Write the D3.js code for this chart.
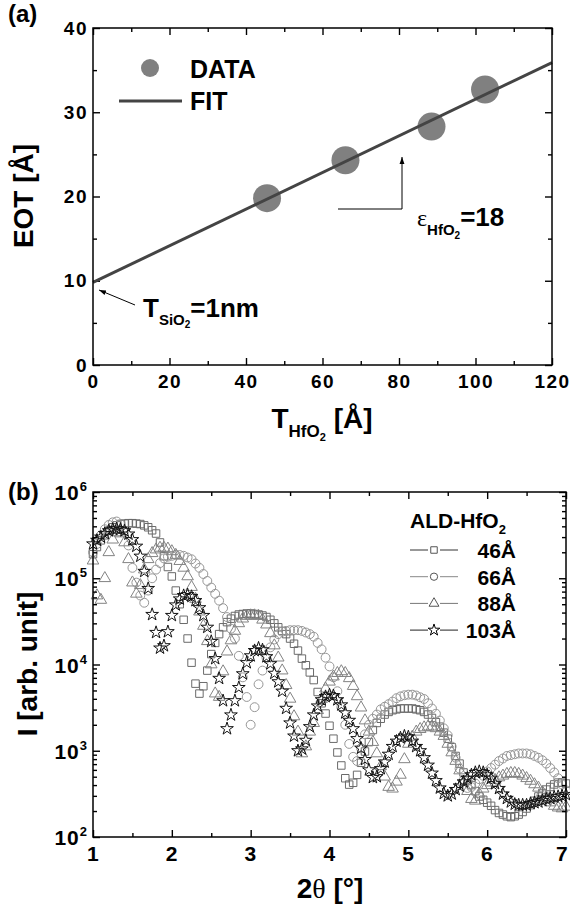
<!DOCTYPE html>
<html lang="en">

<head>
    <meta charset="UTF-8">
    <title>EOT vs HfO2 thickness / XRR</title>
    <script src="https://cdn.jsdelivr.net/npm/d3@7"></script>
    <style>
        body {
            margin: 0;
            background: #fff;
        }

        svg {
            display: block;
            font-family: "Liberation Sans", Arial, Helvetica, sans-serif;
            font-weight: bold;
        }
    </style>
</head>

<body>
    <script>
        // ---- panel (a) data ----
        const thickness = [45.5, 66, 88.5, 102.5];
        const eot = [19.8, 24.3, 28.3, 32.7];
        const fitX = [0, 120];
        const fitY = [9.8, 35.9];
        const thkTicks = [0, 20, 40, 60, 80, 100, 120];
        const thkMinor = [10, 30, 50, 70, 90, 110];
        const eotTicks = [0, 10, 20, 30, 40];
        const eotMinor = [5, 15, 25, 35];

        // ---- panel (b) data ----
        const twoTheta = [
            1.00, 1.05, 1.10, 1.15, 1.20, 1.25, 1.30, 1.35, 1.40, 1.45,
            1.50, 1.55, 1.60, 1.65, 1.70, 1.75, 1.80, 1.85, 1.90, 1.95,
            2.00, 2.05, 2.10, 2.15, 2.20, 2.25, 2.30, 2.35, 2.40, 2.45,
            2.50, 2.55, 2.60, 2.65, 2.70, 2.75, 2.80, 2.85, 2.90, 2.95,
            3.00, 3.05, 3.10, 3.15, 3.20, 3.25, 3.30, 3.35, 3.40, 3.45,
            3.50, 3.55, 3.60, 3.65, 3.70, 3.75, 3.80, 3.85, 3.90, 3.95,
            4.00, 4.05, 4.10, 4.15, 4.20, 4.25, 4.30, 4.35, 4.40, 4.45,
            4.50, 4.55, 4.60, 4.65, 4.70, 4.75, 4.80, 4.85, 4.90, 4.95,
            5.00, 5.05, 5.10, 5.15, 5.20, 5.25, 5.30, 5.35, 5.40, 5.45,
            5.50, 5.55, 5.60, 5.65, 5.70, 5.75, 5.80, 5.85, 5.90, 5.95,
            6.00, 6.05, 6.10, 6.15, 6.20, 6.25, 6.30, 6.35, 6.40, 6.45,
            6.50, 6.55, 6.60, 6.65, 6.70, 6.75, 6.80, 6.85, 6.90, 6.95,
            7.00
        ];
        const I46 = [
            1.9e5, 2.3e5, 2.75e5, 3.15e5, 3.55e5, 3.9e5, 4.1e5, 4.25e5, 4.3e5, 4.35e5,
            4.35e5, 4.3e5, 4.25e5, 4.1e5, 3.9e5, 3.6e5, 3.3e5, 2.6e5, 1.8e5, 1.35e5,
            1.05e5, 7.2e4, 5.0e4, 3.3e4, 2.0e4, 1.05e4, 6.0e3, 4.6e3, 5.6e3, 8.5e3,
            1.32e4, 1.78e4, 2.25e4, 2.7e4, 3.1e4, 3.4e4, 3.65e4, 3.8e4, 3.85e4, 3.9e4,
            3.9e4, 3.85e4, 3.8e4, 3.7e4, 3.55e4, 3.3e4, 3.0e4, 2.7e4, 2.45e4, 2.25e4,
            2.0e4, 1.74e4, 1.45e4, 1.17e4, 9.8e3, 8.1e3, 6.6e3, 4.8e3, 3.55e3, 2.7e3,
            1950, 1380, 955, 675, 480, 405, 425, 525, 725, 980,
            1260, 1740, 2100, 2350, 2630, 2820, 2950, 3020, 3090, 3090,
            3090, 3090, 3020, 2950, 2820, 2630, 2400, 2140, 1900, 1620,
            1380, 1100, 870, 710, 560, 455, 400, 340, 295, 270,
            250, 230, 205, 190, 182, 174, 170, 174, 182, 195,
            214, 234, 263, 295, 324, 355, 380, 407, 427, 427,
            417
        ];
        const I66 = [
            2.0e5, 2.5e5, 3.15e5, 3.7e5, 4.15e5, 4.45e5, 4.55e5, 4.25e5, 3.55e5, 2.4e5,
            1.32e5, 8.9e4, 6.3e4, 5.2e4, 7.2e4, 1.0e5, 1.26e5, 1.5e5, 1.7e5, 1.78e5,
            1.82e5, 1.86e5, 1.86e5, 1.82e5, 1.74e5, 1.66e5, 1.48e5, 1.32e5, 1.12e5, 9.3e4,
            7.8e4, 6.6e4, 5.5e4, 4.5e4, 3.55e4, 2.6e4, 2.0e4, 1.26e4, 7.1e3, 4.2e3,
            2.0e3, 3.2e3, 5.9e3, 8.5e3, 1.2e4, 1.58e4, 1.95e4, 2.25e4, 2.4e4, 2.45e4,
            2.5e4, 2.5e4, 2.5e4, 2.45e4, 2.35e4, 2.25e4, 2.1e4, 1.78e4, 1.5e4, 1.2e4,
            9.5e3, 7.1e3, 4.9e3, 3.2e3, 2.0e3, 1.2e3, 850, 760, 1070, 1550,
            2000, 2350, 2630, 3020, 3240, 3470, 3720, 4070, 4270, 4400,
            4470, 4470, 4370, 4170, 3980, 3550, 3090, 2690, 2240, 1820,
            1510, 1120, 830, 620, 455, 370, 380, 417, 468, 513,
            575, 630, 690, 760, 813, 870, 890, 910, 930, 930,
            930, 910, 870, 830, 776, 710, 630, 560, 480, 407,
            347
        ];
        const I88 = [
            1.6e5, 6.3e4, 5.6e4, 1.0e5, 2.0e5, 2.8e5, 3.4e5, 3.3e5, 2.6e5, 1.66e5,
            8.9e4, 6.6e4, 8.3e4, 1.26e5, 1.66e5, 1.95e5, 2.15e5, 2.25e5, 2.25e5, 2.2e5,
            2.05e5, 1.86e5, 1.58e5, 1.32e5, 1.05e5, 7.9e4, 5.75e4, 4.1e4, 2.8e4, 1.86e4,
            1.0e4, 4.6e3, 4.2e3, 8.3e3, 1.41e4, 1.9e4, 2.45e4, 3.0e4, 3.4e4, 3.65e4,
            3.7e4, 3.7e4, 3.65e4, 3.3e4, 2.9e4, 2.3e4, 1.66e4, 1.2e4, 8.5e3, 5.75e3,
            4.0e3, 2.5e3, 1.66e3, 930, 1120, 1660, 2090, 2950, 3980, 5250,
            6310, 7240, 7940, 8320, 7940, 6920, 5620, 4270, 3160, 2240,
            1660, 1260, 930, 660, 500, 380, 363, 437, 525, 795,
            1200, 1450, 1660, 1780, 1860, 1900, 1900, 1820, 1660, 1480,
            1200, 955, 760, 590, 437, 340, 275, 263, 316, 363,
            398, 427, 457, 490, 513, 537, 550, 550, 537, 513,
            480, 447, 407, 372, 331, 288, 251, 229, 219, 214,
            224
        ];
        const I103 = [
            2.5e5, 2.75e5, 3.0e5, 3.3e5, 3.55e5, 3.7e5, 3.75e5, 3.7e5, 3.55e5, 3.25e5,
            2.8e5, 2.35e5, 1.8e5, 1.2e5, 7.6e4, 3.8e4, 2.35e4, 1.55e4, 1.65e4, 2.4e4,
            3.7e4, 4.9e4, 5.75e4, 6.3e4, 6.45e4, 6.15e4, 5.5e4, 4.55e4, 3.7e4, 2.7e4,
            1.85e4, 1.17e4, 6.9e3, 3.8e3, 1.8e3, 2.6e3, 3.8e3, 5.4e3, 7.8e3, 1.05e4,
            1.26e4, 1.45e4, 1.55e4, 1.48e4, 1.23e4, 1.02e4, 7.9e3, 6.3e3, 4.9e3, 3.1e3,
            2.1e3, 1.48e3, 1.0e3, 1.05e3, 1.32e3, 1.9e3, 2.6e3, 3.3e3, 3.9e3, 4.25e3,
            4450, 4350, 3900, 3400, 2750, 2250, 1800, 1380, 1070, 790,
            600, 490, 500, 620, 740, 910, 1120, 1290, 1410, 1480,
            1450, 1290, 1120, 1000, 830, 680, 550, 450, 370, 320,
            300, 315, 355, 390, 435, 480, 525, 560, 575, 560,
            525, 480, 415, 365, 315, 280, 255, 240, 235, 235,
            235, 245, 250, 255, 265, 275, 280, 290, 295, 300,
            310
        ];
        const angleTicks = [1, 2, 3, 4, 5, 6, 7];
        const angleMinor = [1.5, 2.5, 3.5, 4.5, 5.5, 6.5];
        const decades = [1e2, 1e3, 1e4, 1e5, 1e6];
        const seriesNames = ["46Å", "66Å", "88Å", "103Å"];

        const FONT = '"Liberation Sans", Arial, Helvetica, sans-serif';

        let svg = d3.select("body")
            .append("svg")
            .attr("width", 570)
            .attr("height", 911);

        svg.append("defs").append("marker")
            .attr("id", "arrow")
            .attr("viewBox", "0 0 10 10")
            .attr("refX", 10).attr("refY", 5)
            .attr("markerWidth", 7).attr("markerHeight", 7)
            .attr("orient", "auto")
            .append("path").attr("d", "M0,1.5 L10,5 L0,8.5 Z").attr("fill", "#000");

        // inward ticks, with or without labels
        function drawAxis(axis, scale, values, size, tr, fmt, pad, fs) {
            const g = svg.append("g")
                .attr("transform", tr)
                .call(axis(scale).tickValues(values).tickSizeInner(-size).tickSizeOuter(0)
                    .tickPadding(pad || 0).tickFormat(fmt || ""));
            g.select(".domain").remove();
            g.selectAll("line").attr("stroke", "#000").attr("stroke-width", 1.4);
            g.selectAll("text")
                .attr("font-family", FONT)
                .attr("font-weight", "bold")
                .attr("font-size", fs || 18)
                .attr("letter-spacing", 1.5)
                .attr("fill", "#000");
            return g;
        }

        function frame(x, y) {
            svg.append("rect")
                .attr("x", x.range()[0]).attr("y", y.range()[1])
                .attr("width", x.range()[1] - x.range()[0])
                .attr("height", y.range()[0] - y.range()[1])
                .attr("fill", "none").attr("stroke", "#000").attr("stroke-width", 1.5);
        }

        // =================== (a) ===================
        const xa = d3.scaleLinear().domain([0, 120]).range([93, 552]);
        const ya = d3.scaleLinear().domain([0, 40]).range([365, 28]);

        drawAxis(d3.axisBottom, xa, thkTicks, 7, "translate(0,365)", d3.format("d"), 10, 19);
        drawAxis(d3.axisBottom, xa, thkMinor, 4, "translate(0,365)");
        drawAxis(d3.axisTop, xa, thkTicks, 7, "translate(0,28)");
        drawAxis(d3.axisTop, xa, thkMinor, 4, "translate(0,28)");
        drawAxis(d3.axisLeft, ya, eotTicks, 7, "translate(93,0)", d3.format("d"), 5, 19);
        drawAxis(d3.axisLeft, ya, eotMinor, 4, "translate(93,0)");
        drawAxis(d3.axisRight, ya, eotTicks, 7, "translate(552,0)");
        drawAxis(d3.axisRight, ya, eotMinor, 4, "translate(552,0)");

        // data circles
        svg.append("g").selectAll("circle")
            .data(thickness)
            .join("circle")
            .attr("cx", d => xa(d))
            .attr("cy", (d, i) => ya(eot[i]))
            .attr("r", 14)
            .attr("fill", "#808080");

        // fit line
        const fitLine = d3.line().x(d => xa(d[0])).y(d => ya(d[1]));
        svg.append("path")
            .datum(fitX.map((d, i) => [d, fitY[i]]))
            .attr("d", fitLine)
            .attr("fill", "none")
            .attr("stroke", "#444")
            .attr("stroke-width", 3);

        frame(xa, ya);

        // legend (a)
        svg.append("circle").attr("cx", 150).attr("cy", 68).attr("r", 9).attr("fill", "#808080");
        svg.append("text").attr("x", 190).attr("y", 78).attr("font-size", 25).text("DATA");
        svg.append("line").attr("x1", 119).attr("x2", 182).attr("y1", 101).attr("y2", 101)
            .attr("stroke", "#444").attr("stroke-width", 3);
        svg.append("text").attr("x", 190).attr("y", 110).attr("font-size", 25).text("FIT");

        // annotations
        svg.append("line").attr("x1", 135).attr("y1", 305).attr("x2", 99).attr("y2", 290)
            .attr("stroke", "#000").attr("stroke-width", 1).attr("marker-end", "url(#arrow)");
        let tsio = svg.append("text").attr("x", 143).attr("y", 317).attr("font-size", 26);
        tsio.append("tspan").text("T");
        tsio.append("tspan").attr("font-size", 15).attr("dy", 8).text("SiO");
        tsio.append("tspan").attr("font-size", 10).attr("dy", 3).text("2");
        tsio.append("tspan").attr("dy", -11).text("=1nm");

        svg.append("path").attr("d", "M338,209 L402,209 L402,157")
            .attr("fill", "none").attr("stroke", "#000").attr("stroke-width", 1)
            .attr("marker-end", "url(#arrow)");
        let eps = svg.append("text").attr("x", 417).attr("y", 226).attr("font-size", 26);
        eps.append("tspan").attr("font-family", '"Liberation Serif", serif').attr("font-weight", "normal")
            .attr("font-size", 24).text("ε");
        eps.append("tspan").attr("font-size", 15).attr("dy", 9).text("HfO");
        eps.append("tspan").attr("font-size", 10).attr("dy", 4).text("2");
        eps.append("tspan").attr("dy", -13).text("=18");

        // axis titles (a)
        svg.append("text").attr("transform", "translate(33,196) rotate(-90)")
            .attr("text-anchor", "middle").attr("font-size", 28).text("EOT [Å]");
        let xta = svg.append("text").attr("x", 322).attr("y", 428)
            .attr("text-anchor", "middle").attr("font-size", 28);
        xta.append("tspan").text("T");
        xta.append("tspan").attr("font-size", 17).attr("dy", 9).text("HfO");
        xta.append("tspan").attr("font-size", 11).attr("dy", 4).text("2");
        xta.append("tspan").attr("dy", -13).text(" [Å]");

        svg.append("text").attr("x", 8).attr("y", 22).attr("font-size", 24).text("(a)");

        // =================== (b) ===================
        const xb = d3.scaleLinear().domain([1, 7]).range([93, 566]);
        const yb = d3.scaleLog().domain([1e2, 1e6]).range([837, 492]);

        const logMinor = [];
        decades.slice(0, -1).forEach(d => [2, 3, 4, 5, 6, 7, 8, 9].forEach(m => logMinor.push(d * m)));

        // markers
        const series = [
            { values: I46, type: d3.symbolSquare, size: 56, color: "#6a6a6a" },
            { values: I66, type: d3.symbolCircle, size: 62, color: "#969696" },
            { values: I88, type: d3.symbolTriangle, size: 58, color: "#838383" },
            { values: I103, type: d3.symbolStar, size: 50, color: "#111" }
        ];
        series.forEach(s => {
            svg.append("g").selectAll("path")
                .data(twoTheta.map((t, i) => [t, s.values[i]]))
                .join("path")
                .attr("transform", d => `translate(${xb(d[0])},${yb(d[1])})`)
                .attr("d", d3.symbol(s.type, s.size))
                .attr("fill", "none")
                .attr("stroke", s.color)
                .attr("stroke-width", 1);
        });

        const bx = drawAxis(d3.axisBottom, xb, angleTicks, 7, "translate(0,837)", d3.format("d"), 9, 21);
        bx.selectAll("text").filter(d => d === 7).attr("dx", -4);
        drawAxis(d3.axisBottom, xb, angleMinor, 4, "translate(0,837)");
        drawAxis(d3.axisTop, xb, angleTicks, 7, "translate(0,492)");
        drawAxis(d3.axisTop, xb, angleMinor, 4, "translate(0,492)");
        drawAxis(d3.axisLeft, yb, decades, 7, "translate(93,0)");
        drawAxis(d3.axisLeft, yb, logMinor, 4, "translate(93,0)");
        drawAxis(d3.axisRight, yb, decades, 7, "translate(566,0)");
        drawAxis(d3.axisRight, yb, logMinor, 4, "translate(566,0)");

        // decade labels 10^n
        decades.forEach(d => {
            let t = svg.append("text").attr("x", 88).attr("y", yb(d) + 8)
                .attr("text-anchor", "end").attr("font-size", 21).attr("letter-spacing", 1);
            t.append("tspan").text("10");
            t.append("tspan").attr("font-size", 13).attr("dy", -9).text(Math.round(Math.log10(d)));
        });

        frame(xb, yb);

        // legend (b)
        let lt = svg.append("text").attr("x", 410).attr("y", 528).attr("font-size", 21);
        lt.append("tspan").text("ALD-HfO");
        lt.append("tspan").attr("font-size", 13).attr("dy", 6).text("2");
        const legendLine = ["#333", "#888", "#777", "#222"];
        seriesNames.forEach((name, i) => {
            const yy = 550 + i * 26.7;
            svg.append("line").attr("x1", 410).attr("x2", 458).attr("y1", yy).attr("y2", yy)
                .attr("stroke", legendLine[i]).attr("stroke-width", 1);
            svg.append("rect").attr("x", 428).attr("y", yy - 5).attr("width", 12).attr("height", 10).attr("fill", "#fff");
            svg.append("path")
                .attr("transform", `translate(434,${yy})`)
                .attr("d", d3.symbol(series[i].type, 42))
                .attr("fill", "#fff").attr("stroke", i === 3 ? "#000" : "#555").attr("stroke-width", 1);
            svg.append("text").attr("x", 516).attr("y", yy + 8).attr("text-anchor", "end")
                .attr("font-size", 21).text(name);
        });

        // axis titles (b)
        svg.append("text").attr("transform", "translate(37,664) rotate(-90)")
            .attr("text-anchor", "middle").attr("font-size", 28).text("I [arb. unit]");
        let xtb = svg.append("text").attr("x", 330).attr("y", 898)
            .attr("text-anchor", "middle").attr("font-size", 28);
        xtb.append("tspan").text("2");
        xtb.append("tspan").attr("font-family", '"Liberation Serif", serif').attr("font-weight", "normal").text("θ");
        xtb.append("tspan").text(" [°]");

        svg.append("text").attr("x", 8).attr("y", 500).attr("font-size", 24).text("(b)");
    </script>
</body>

</html>
